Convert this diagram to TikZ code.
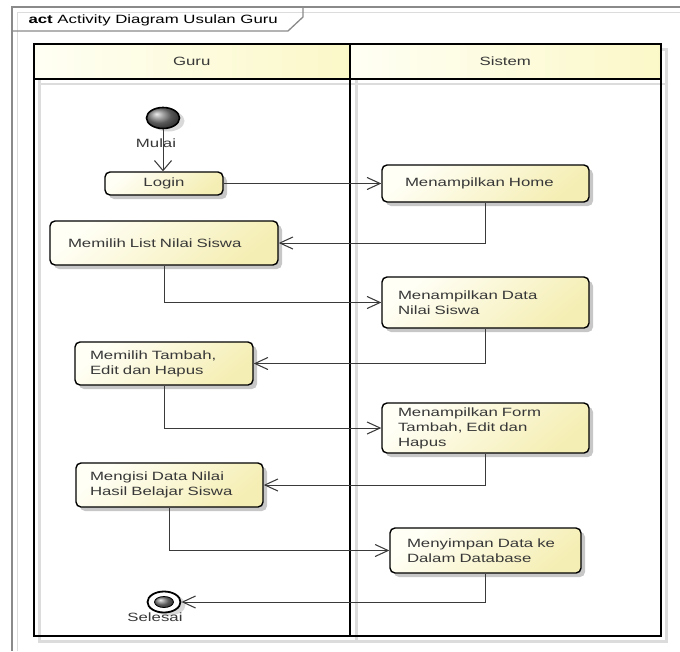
\documentclass[tikz,border=0pt]{standalone}
\usepackage{fontspec}
\newfontfamily\umlfont{Liberation Sans}[FakeStretch=1.4]
\usetikzlibrary{arrows.meta,shapes.geometric,shadows}
\definecolor{txt}{HTML}{383838}
\definecolor{frm}{HTML}{8A8A8A}
\definecolor{shd}{HTML}{DCDCDC}
\definecolor{ylA}{HTML}{FFFFF6}
\definecolor{ylB}{HTML}{F5EEB4}
\definecolor{hdA}{HTML}{FFFFF4}
\definecolor{hdB}{HTML}{FBF8C8}
\definecolor{ln}{HTML}{3A3A3A}
\newcommand\drawconns{%
  \draw[conn, vtip] (start.south) -- (start.south |- login.north);
  \draw[conn, htip] (login.east) -- (home.west);
  \draw[conn, htip] (home.south) |- (list.east);
  \draw[conn, htip] (list.south) |- (data.west);
  \draw[conn, htip] (data.south) |- (tambah.east);
  \draw[conn, htip] (tambah.south) |- (form.west);
  \draw[conn, htip] (form.south) |- (isi.east);
  \draw[conn, htip] (isi.south) |- (simpan.west);
  \draw[conn, htip] (simpan.south) |- (end.east);
}
\begin{document}
\begin{tikzpicture}[x=1pt,y=-1pt,
  every node/.style={font=\umlfont\fontsize{12}{15}\selectfont, text=txt},
  actbox/.style={draw=black, line width=1.4pt, rounded corners=5pt,
    top color=ylA, bottom color=ylB, shading angle=40,
    drop shadow={shadow xshift=4pt, shadow yshift=-4pt, opacity=0.22, fill=black},
    inner ysep=1pt, align=left},
  header/.style={left color=hdA, right color=hdB, inner sep=0pt},
  htip/.style={-{Straight Barb[length=13pt,width=12pt]}},
  vtip/.style={-{Straight Barb[length=10pt,width=17pt]}},
]
\useasboundingbox (0,0) rectangle (680,651);

% frame
\draw[shd, line width=1pt] (17,651) -- (17,12) -- (680,12);
\draw[frm, line width=1.3pt] (12,651) -- (12,7) -- (680,7);
\draw[frm, line width=1.3pt] (12,31) -- (288,31) -- (303,17) -- (303,7);
\node[anchor=west, text=black] (title) at (25,20) {\textbf{act} Activity Diagram Usulan Guru};

% lane shadows
\draw[shd, line width=3pt] (39,49) rectangle (666,641);
\draw[shd, line width=3pt] (356,49) -- (356,641);
\draw[shd, line width=2pt] (39,84) -- (666,84);

% headers
\node[header, minimum width=315.5pt, minimum height=35pt] (hguru) at (191.75,61.5) {Guru};
\node[header, minimum width=311.5pt, minimum height=35pt] (hsis) at (505.25,61.5) {Sistem};

% lane lines
\draw[black, line width=2pt] (34,44) rectangle (661,636);
\draw[black, line width=2pt] (349.5,44) -- (349.5,636);
\draw[black, line width=2pt] (34,79) -- (661,79);

% start / end
\node[ellipse, draw=black, line width=1.6pt, minimum width=33pt, minimum height=21pt, inner sep=0pt,
  ball color=gray, drop shadow={shadow xshift=5pt, shadow yshift=-3pt, opacity=0.15, fill=black}] (start) at (163,118) {};
\node (mulai) at (156,143) {Mulai};

\node[ellipse, draw=black, line width=1.8pt, fill=white, minimum width=33pt, minimum height=21pt, inner sep=0pt,
  drop shadow={shadow xshift=5pt, shadow yshift=-3pt, opacity=0.15, fill=black}] (end) at (164,602) {};
\node[ellipse, draw=black, line width=0.8pt, ball color=gray, minimum width=19pt, minimum height=11pt, inner sep=0pt] (endin) at (end.center) {};
\node (selesai) at (155,617) {Selesai};

% activities
\node[actbox, align=center, minimum width=118pt, minimum height=23pt] (login) at (164,183.5) {Login};
\node[actbox, minimum width=207pt, minimum height=37pt, inner xsep=23pt, text width=161pt] (home) at (485.5,183.5) {Menampilkan Home};
\node[actbox, minimum width=228pt, minimum height=44pt, inner xsep=18pt, text width=192pt] (list) at (164,243) {Memilih List Nilai Siswa};
\node[actbox, minimum width=207pt, minimum height=51pt, inner xsep=16pt, text width=175pt] (data) at (485.5,302.5) {Menampilkan Data\\Nilai Siswa};
\node[actbox, minimum width=178pt, minimum height=43pt, inner xsep=15pt, text width=148pt] (tambah) at (164,363.5) {Memilih Tambah,\\Edit dan Hapus};
\node[actbox, minimum width=207pt, minimum height=50pt, inner xsep=16pt, text width=175pt] (form) at (485.5,428) {Menampilkan Form\\Tambah, Edit dan\\Hapus};
\node[actbox, minimum width=187pt, minimum height=44pt, inner xsep=14pt, text width=159pt] (isi) at (169.5,485) {Mengisi Data Nilai\\Hasil Belajar Siswa};
\node[actbox, minimum width=191pt, minimum height=45pt, inner xsep=17pt, text width=157pt] (simpan) at (485.5,550.5) {Menyimpan Data ke\\Dalam Database};

% connectors: shadows then lines
\begin{scope}[xshift=5pt, yshift=-5pt, conn/.style={draw=shd, line width=1pt}]
\drawconns
\end{scope}
\begin{scope}[conn/.style={draw=ln, line width=1pt}]
\drawconns
\end{scope}
\end{tikzpicture}
\end{document}
